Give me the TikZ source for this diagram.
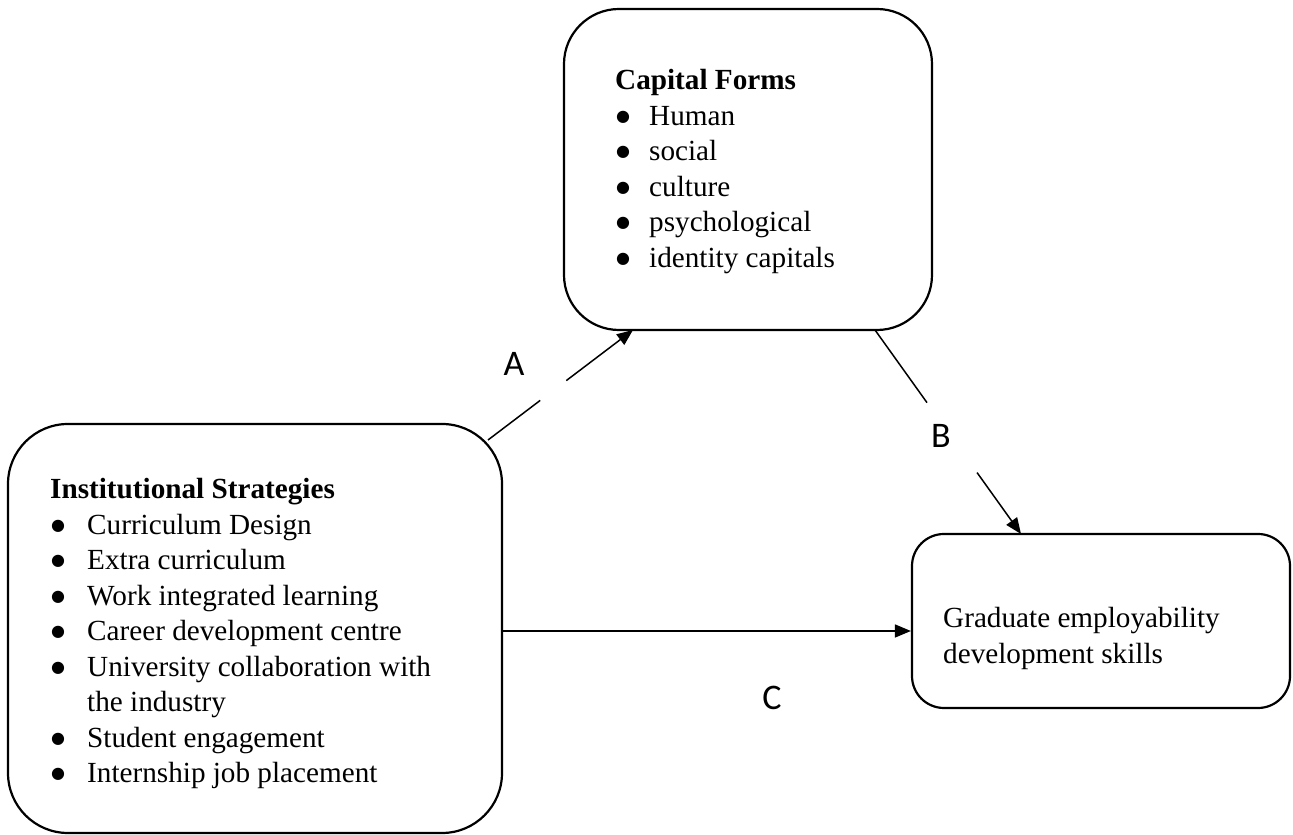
\documentclass[tikz,border=0pt]{standalone}
\usepackage{fontspec}
\setmainfont{Liberation Serif}
\newfontfamily\lblfont{Carlito}
\newfontfamily\bulfont{DejaVu Sans}
\usetikzlibrary{arrows.meta,calc}
\newcommand{\bul}{\hspace*{1pt}\raisebox{4pt}{\bulfont\fontsize{16}{18}\selectfont ●}}
\begin{document}
\begin{tikzpicture}[x=1pt,y=1pt,
  box/.style={draw=black, line width=2.2pt, rectangle, inner sep=0pt},
  conn/.style={line width=1.5pt},
  tip/.style={-{Triangle[length=16pt,width=13pt]}},
  body/.style={inner sep=0pt, anchor=base west, align=left, font=\fontsize{29.2}{35.5}\selectfont},
  lbl/.style={inner sep=0pt, anchor=base, font=\lblfont\fontsize{36}{40}\selectfont}]
\useasboundingbox (0,0) rectangle (1293,835);
% boxes
\node[box, rounded corners=60pt, minimum width=494pt, minimum height=409pt] (L) at (255,206.5) {};
\node[box, rounded corners=55pt, minimum width=368pt, minimum height=321pt] (T) at (748,665.5) {};
\node[box, rounded corners=32pt, minimum width=378pt, minimum height=174pt] (R) at (1101,214) {};
% texts
\node[body] (Ltxt) at (50,336) {\begin{tabular}[t]{@{}p{37pt}@{}l@{}}
\multicolumn{2}{@{}l@{}}{\textbf{Institutional Strategies}}\\
\bul & Curriculum Design\\
\bul & Extra curriculum\\
\bul & Work integrated learning\\
\bul & Career development centre\\
\bul & University collaboration with\\
 & the industry\\
\bul & Student engagement\\
\bul & Internship job placement
\end{tabular}};
\node[body] (Ttxt) at (615,745) {\begin{tabular}[t]{@{}p{34pt}@{}l@{}}
\multicolumn{2}{@{}l@{}}{\textbf{Capital Forms}}\\
\bul & Human\\
\bul & social\\
\bul & culture\\
\bul & psychological\\
\bul & identity capitals
\end{tabular}};
\node[body] (Rtxt) at (943,207) {\begin{tabular}[t]{@{}l@{}}
Graduate employability\\
development skills
\end{tabular}};
% connectors
\coordinate (a1) at (488,395);
\coordinate (a2) at (633,505);
\draw[conn] (a1) -- ($(a1)!0.36!(a2)$);
\draw[conn,tip] ($(a1)!0.54!(a2)$) -- (a2);
\coordinate (b1) at (875,505);
\coordinate (b2) at (1021,301);
\draw[conn] (b1) -- ($(b1)!0.356!(b2)$);
\draw[conn,tip] ($(b1)!0.699!(b2)$) -- (b2);
\coordinate (c1) at (502,204);
\draw[conn,tip] (c1) -- (R.west |- c1);
% labels
\node[lbl] (la) at (514,459) {A};
\node[lbl] (lb) at (941,387) {B};
\node[lbl] (lc) at (772,125) {C};
\end{tikzpicture}
\end{document}
